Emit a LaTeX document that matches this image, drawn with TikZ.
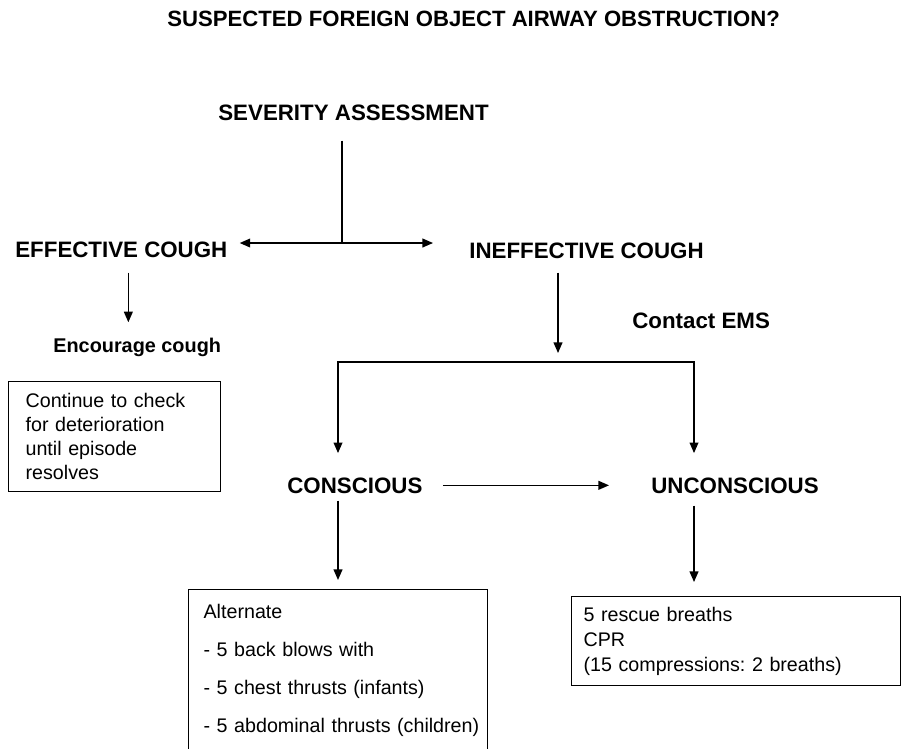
\documentclass[tikz,border=0pt]{standalone}
\usepackage{fontspec}
\setmainfont{Liberation Sans}
\usetikzlibrary{arrows.meta}
\frenchspacing

\begin{document}
\begin{tikzpicture}[x=0.02cm,y=-0.02cm]
\tikzstyle{every node}+=[inner sep=0pt]
\tikzstyle{head}=[anchor=base west,font=\fontsize{12.7}{15}\selectfont\bfseries]
\tikzstyle{sub}=[anchor=base west,font=\fontsize{11.3}{14}\selectfont\bfseries]
\tikzstyle{box}=[draw,line width=0.7pt,anchor=north west,align=left]
\tikzstyle{link}=[line width=0.8pt]
\tikzstyle{arr}=[link,-{Triangle[length=6pt,width=5pt]}]
\tikzstyle{arrs}=[link,{Triangle[length=6pt,width=5pt]}-{Triangle[length=6pt,width=5pt]}]
\useasboundingbox (0,0) rectangle (901,748);
% headings
\node[head,font=\fontsize{12.6}{15}\selectfont\bfseries] (title) at (167,26) {SUSPECTED FOREIGN OBJECT AIRWAY OBSTRUCTION?};
\node[head] (sev) at (218,120) {SEVERITY ASSESSMENT};
\node[head] (eff) at (15,257) {EFFECTIVE COUGH};
\node[head] (ineff) at (469,258) {INEFFECTIVE COUGH};
\node[sub] (enc) at (53,352) {Encourage cough};
\node[head] (ems) at (632,328) {Contact EMS};
\node[head] (con) at (287,493) {CONSCIOUS};
\node[head] (uncon) at (651,493) {UNCONSCIOUS};
% boxes
\node[box,text width=3.56cm,inner xsep=0.34cm,minimum height=2.2cm,font=\fontsize{11.2}{13.7}\selectfont] (check) at (8,381) {Continue to check\\for deterioration\\until episode\\resolves};
\node[box,text width=5.38cm,inner xsep=0.3cm,inner ysep=0.3cm,font=\fontsize{11.2}{21.6}\selectfont] (alt) at (188,589) {Alternate\\- 5 back blows with\\- 5 chest thrusts (infants)\\\mbox{- 5 abdominal thrusts (children)}};
\node[box,text width=6.1cm,inner xsep=0.24cm,minimum height=1.78cm,font=\fontsize{11.2}{14.2}\selectfont] (rescue) at (571,596) {5 rescue breaths\\CPR\\(15 compressions: 2 breaths)};
% junctions
\coordinate (split) at (342,243);
\coordinate (fork) at (558,362);
\coordinate (lb) at (338,362);
\coordinate (rb) at (694,362);
% connectors
\draw[link,shorten <=0.4cm] (sev.south -| split) -- (split);
\draw[arr,shorten >=0.24cm] (split) -- (split -| eff.east);
\draw[arr,shorten >=0.72cm] (split) -- (split -| ineff.west);
\draw[arr,shorten <=0.3cm,shorten >=0.3cm] ([xshift=0.14cm]eff.south) -- ([xshift=0.14cm]eff.south |- enc.north);
\draw[arr,shorten <=0.28cm,shorten >=0.18cm] (ineff.south -| fork) -- (fork);
\draw[arrs,shorten <=0.48cm,shorten >=0.48cm] (lb |- con.north) -- (lb) -- (rb) -- (rb |- uncon.north);
\draw[arr,shorten <=0.4cm,shorten >=0.84cm] (con.east) -- (uncon.west);
\draw[arr,shorten <=0.14cm,shorten >=0.18cm] (lb |- con.south) -- (lb |- alt.north);
\draw[arr,shorten <=0.24cm,shorten >=0.28cm] (rb |- uncon.south) -- (rb |- rescue.north);
\end{tikzpicture}
\end{document}
